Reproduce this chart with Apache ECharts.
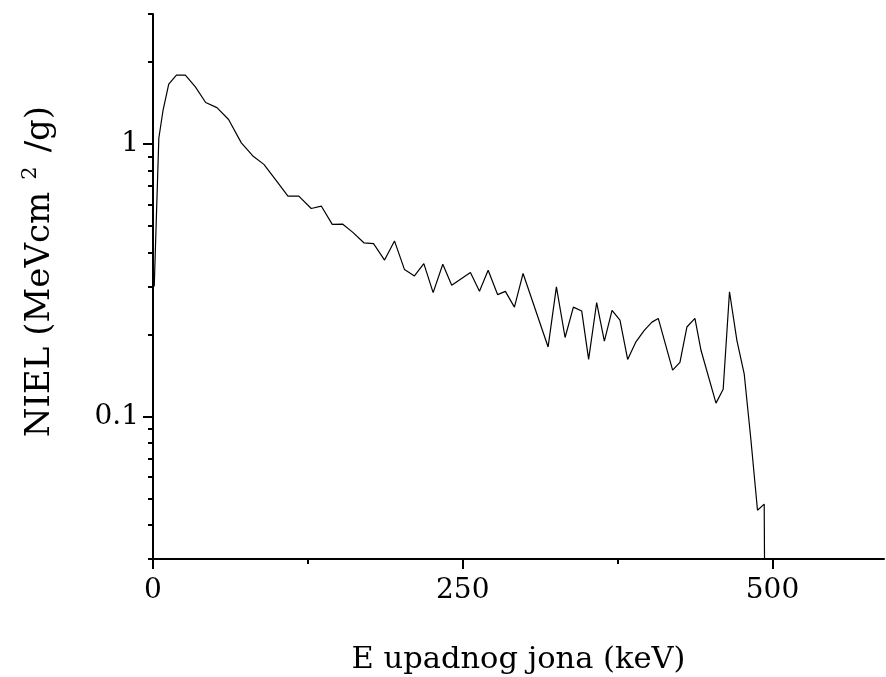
<!DOCTYPE html>
<html>
<head>
<meta charset="utf-8">
<script src="https://cdn.jsdelivr.net/npm/echarts@6/dist/echarts.min.js"></script>
<style>
  html, body { margin: 0; padding: 0; background: #fff; }
  #chart { width: 886px; height: 677px; }
</style>
</head>
<body>
<div id="chart"></div>
<script>
// energija upadnog jona (keV)
var energy = [1, 4.7, 8.1, 12.7, 18.9, 26.1, 34.2, 42.5, 51.6, 61, 71.3, 80.6, 89.5, 99.2, 108.9, 117.7,
    127.7, 135.8, 144.7, 153.2, 161.3, 170.2, 178, 186.9, 194.9, 203, 211, 218.6, 226.1, 233.9, 241.1,
    256.2, 263.5, 270.5, 278.2, 284.4, 291.7, 298.7, 318.9, 325.6, 332.6, 339.3, 346, 351.6, 358.1,
    364.3, 370.5, 376.9, 383.1, 389.8, 396.5, 402.7, 407.8, 419.4, 425.3, 430.9, 437.4, 442.3, 454.4,
    460.2, 465.3, 471.3, 477.2, 482.6, 487.9, 493.3, 494.6];
// NIEL (MeVcm2/g)
var niel = [0.3, 1.05, 1.33, 1.66, 1.79, 1.79, 1.62, 1.42, 1.36, 1.23, 1.01, 0.904, 0.842, 0.737, 0.644, 0.644,
    0.580, 0.592, 0.507, 0.508, 0.474, 0.434, 0.431, 0.375, 0.441, 0.346, 0.328, 0.364, 0.285, 0.362, 0.303,
    0.338, 0.288, 0.344, 0.280, 0.288, 0.252, 0.335, 0.180, 0.299, 0.195, 0.252, 0.244, 0.162, 0.262,
    0.189, 0.245, 0.226, 0.162, 0.188, 0.207, 0.222, 0.229, 0.148, 0.158, 0.213, 0.229, 0.175, 0.112,
    0.126, 0.287, 0.190, 0.143, 0.082, 0.0453, 0.0477, 0.005];

var xMajorTicks = [0, 250, 500];
var xMinorTicks = [125, 375];
var yMajorTicks = [0.1, 1];
var yMinorTicks = [0.03, 0.04, 0.05, 0.06, 0.07, 0.08, 0.09, 0.2, 0.3, 0.4, 0.5, 0.6, 0.7, 0.8, 0.9, 2, 3];

var chart = echarts.init(document.getElementById('chart'));

var points = [];
for (var i = 0; i < energy.length; i++) {
    points.push([energy[i], niel[i]]);
}

var font = 'DejaVu Serif';

option = {
    backgroundColor: '#fff',
    animation: false,
    grid: {
        left: 153,
        top: 14,
        width: 731,
        bottom: 118,
        outerBoundsMode: 'none',
        containLabel: false
    },
    xAxis: [{
        type: 'value',
        min: 0,
        max: 590,
        name: 'E upadnog jona (keV)',
        nameLocation: 'middle',
        nameGap: 86,
        nameTextStyle: { fontFamily: font, fontSize: 30.5, color: '#000' },
        axisLine: { lineStyle: { color: '#000', width: 2 } },
        axisTick: { show: true, length: 10, inside: false, customValues: xMajorTicks, lineStyle: { color: '#000', width: 2 } },
        axisLabel: { customValues: xMajorTicks, margin: 18, fontFamily: font, fontSize: 28, color: '#000' },
        splitLine: { show: false }
    }, {
        type: 'value',
        min: 0,
        max: 590,
        position: 'bottom',
        axisLine: { show: false },
        axisTick: { show: true, length: 5, customValues: xMinorTicks, lineStyle: { color: '#000', width: 2 } },
        axisLabel: { show: false },
        splitLine: { show: false }
    }],
    yAxis: [{
        type: 'log',
        logBase: 10,
        min: 0.03,
        max: 3,
        name: '{t|NIEL (MeVcm}{s|2}{t|/g)}',
        nameLocation: 'middle',
        nameGap: 92,
        nameTextStyle: {
            color: '#000',
            padding: [0, 0, 0, 30],
            rich: {
                t: { fontFamily: font, fontSize: 34, color: '#000' },
                s: { fontFamily: font, fontSize: 21, color: '#000', verticalAlign: 'top', padding: [0, 14, 20, 12] }
            }
        },
        axisLine: { lineStyle: { color: '#000', width: 2 } },
        axisTick: { show: true, length: 10, customValues: yMajorTicks, lineStyle: { color: '#000', width: 2 } },
        axisLabel: {
            customValues: yMajorTicks,
            margin: 14,
            fontFamily: font,
            fontSize: 28,
            color: '#000',
            formatter: function (v) { return v >= 0.99 ? '1' : '0.1'; }
        },
        splitLine: { show: false }
    }, {
        type: 'log',
        logBase: 10,
        min: 0.03,
        max: 3,
        position: 'left',
        axisLine: { show: false },
        axisTick: { show: true, length: 5, customValues: yMinorTicks, lineStyle: { color: '#000', width: 2 } },
        axisLabel: { show: false },
        splitLine: { show: false }
    }],
    series: [{
        type: 'line',
        xAxisIndex: 0,
        yAxisIndex: 0,
        data: points,
        showSymbol: false,
        smooth: false,
        clip: true,
        lineStyle: { color: '#000', width: 1.2 }
    }]
};

chart.setOption(option);
</script>
</body>
</html>
